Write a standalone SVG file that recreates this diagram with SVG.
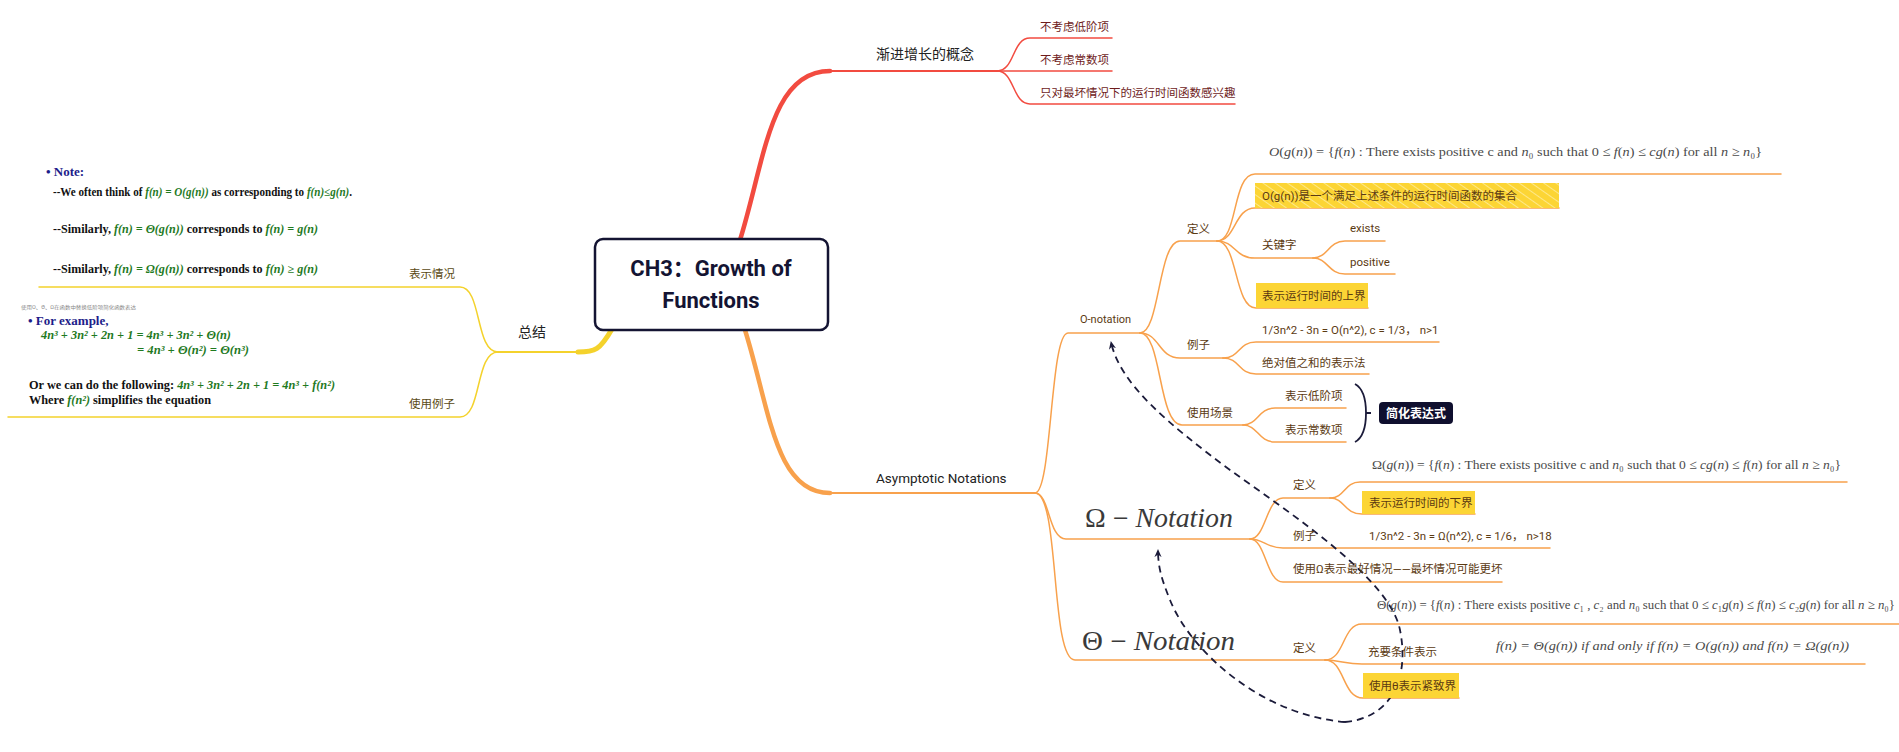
<svg xmlns="http://www.w3.org/2000/svg" width="1899" height="752" viewBox="0 0 1899 752">
<defs>
<style>
.t{font-family:Roboto,'Noto Sans CJK SC',sans-serif}
.main{font-size:14px;fill:#222}
.rd{font-size:11.5px;fill:#6e1c1c}
.or{font-size:11.5px;fill:#5b3a12}
.yl{font-size:11.5px;fill:#5a4a14}
.m{font-family:'Liberation Serif',serif;fill:#4a4a4a;font-size:13px}
.big{font-size:27px;fill:#3a3a3a}
.i{font-style:italic}
.nb{font-family:'Liberation Serif',serif;font-weight:bold}
.g{fill:#1f7a1f;font-style:italic}
.nv{fill:#1d1d8a}
.box{fill:#fcd535}
.lr{fill:none;stroke:#f24b40;stroke-linecap:round}
.lo{fill:none;stroke:#f8a14c;stroke-linecap:round}
.ly{fill:none;stroke:#f4d22c;stroke-linecap:round}
.rel{fill:none;stroke:#1b1b3a;stroke-width:1.8;stroke-dasharray:7 5}
</style>
<pattern id="hatch" patternUnits="userSpaceOnUse" width="7" height="7" patternTransform="rotate(-55)">
<rect width="7" height="7" fill="#fcd535"/>
<line x1="0" y1="0" x2="0" y2="7" stroke="#fff3b8" stroke-width="1.3"/>
</pattern>
<marker id="arr" viewBox="0 0 10 10" refX="8" refY="5" markerWidth="9" markerHeight="9" orient="auto" markerUnits="userSpaceOnUse">
<path d="M0,1 L9,5 L0,9 L3,5 z" fill="#1b1b3a"/>
</marker>
</defs>
<rect width="1899" height="752" fill="#fff"/>

<g id="connectors">
<!-- red -->
<path class="lr" stroke-width="4.5" d="M740 240 C765 160 770 71 830 71"/>
<path class="lr" stroke-width="2" d="M828 71 L997 71"/>
<path class="lr" stroke-width="1.5" d="M997 71 C1015 71 1012 38 1030 38 L1112 38"/>
<path class="lr" stroke-width="1.5" d="M997 71 L1112 71"/>
<path class="lr" stroke-width="1.5" d="M997 71 C1015 71 1012 104 1030 104 L1235 104"/>
<!-- yellow -->
<path class="ly" stroke-width="5" d="M612 329 C600 350 595 352 578 352"/>
<path class="ly" stroke-width="2" d="M580 352 L498 352"/>
<path class="ly" stroke-width="1.5" d="M498 352 C475 352 482 287 460 287 L39 287"/>
<path class="ly" stroke-width="1.5" d="M498 352 C475 352 482 417 460 417 L8 417"/>
<!-- orange -->
<path class="lo" stroke-width="4.5" d="M745 330 C770 410 775 493 830 493"/>
<path class="lo" stroke-width="2" d="M828 493 L1035 493"/>
<path class="lo" stroke-width="1.5" d="M1035 493 C1052 493 1050 333 1068 333 L1140 333"/>
<path class="lo" stroke-width="1.5" d="M1035 493 C1050 493 1048 539 1066 539 L1250 539"/>
<path class="lo" stroke-width="1.5" d="M1035 493 C1060 493 1050 660 1075 660 L1325 660"/>
<path class="lo" stroke-width="1.5" d="M1140 333 C1160 333 1158 241 1180 241 L1217 241"/>
<path class="lo" stroke-width="1.5" d="M1140 333 C1160 333 1158 358 1180 358 L1223 358"/>
<path class="lo" stroke-width="1.5" d="M1140 333 C1162 333 1158 425 1182 425 L1243 425"/>
<path class="lo" stroke-width="1.5" d="M1217 241 C1238 241 1232 174 1255 174 L1781 174"/>
<path class="lo" stroke-width="1.5" d="M1217 241 C1236 241 1234 208 1255 208 L1559 208"/>
<path class="lo" stroke-width="1.5" d="M1217 241 C1236 241 1234 258 1255 258 L1313 258"/>
<path class="lo" stroke-width="1.5" d="M1217 241 C1238 241 1234 308 1256 308 L1368 308"/>
<path class="lo" stroke-width="1.5" d="M1313 258 C1328 258 1328 241 1345 241 L1385 241"/>
<path class="lo" stroke-width="1.5" d="M1313 258 C1328 258 1328 274 1345 274 L1395 274"/>
<path class="lo" stroke-width="1.5" d="M1223 358 C1240 358 1238 342 1256 342 L1439 342"/>
<path class="lo" stroke-width="1.5" d="M1223 358 C1240 358 1238 374 1256 374 L1369 374"/>
<path class="lo" stroke-width="1.5" d="M1243 425 C1258 425 1258 408 1275 408 L1346 408"/>
<path class="lo" stroke-width="1.5" d="M1243 425 C1258 425 1258 442 1275 442 L1346 442"/>
<path class="lo" stroke-width="1.5" d="M1250 539 C1266 539 1266 498 1283 498 L1330 498"/>
<path class="lo" stroke-width="1.5" d="M1250 539 C1264 539 1266 548 1283 548 L1550 548"/>
<path class="lo" stroke-width="1.5" d="M1250 539 C1266 539 1266 582 1283 582 L1502 582"/>
<path class="lo" stroke-width="1.5" d="M1330 498 C1345 498 1344 482 1360 482 L1847 482"/>
<path class="lo" stroke-width="1.5" d="M1330 498 C1345 498 1344 514 1362 514 L1475 514"/>
<path class="lo" stroke-width="1.5" d="M1325 660 C1345 660 1342 624 1362 624 L1899 624"/>
<path class="lo" stroke-width="1.5" d="M1325 660 C1340 660 1345 664 1362 664 L1865 664"/>
<path class="lo" stroke-width="1.5" d="M1325 660 C1345 660 1342 698 1363 698 L1459 698"/>
<!-- brace -->
<path fill="none" stroke="#1b1b3a" stroke-width="1.8" d="M1355 384 Q1366 390 1366 413 Q1366 436 1355 442 M1366 413 L1371 413"/>
<!-- relationships -->
<path class="rel" marker-end="url(#arr)" d="M1345 722 C1390 718 1410 680 1400 630 C1390 580 1300 520 1230 470 C1170 425 1120 385 1111 342"/>
<path class="rel" marker-end="url(#arr)" d="M1345 722 C1260 715 1190 650 1170 600 C1162 580 1158 568 1158 550"/>
</g>

<g id="root">
<rect x="595" y="239" width="233" height="91" rx="8" fill="#fff" stroke="#141433" stroke-width="2.5"/>
<text class="t" x="711" y="276" text-anchor="middle" font-size="22" font-weight="bold" fill="#141433">CH3：Growth of</text>
<text class="t" x="711" y="308" text-anchor="middle" font-size="22" font-weight="bold" fill="#141433">Functions</text>
</g>

<g id="concept">
<text class="t main" x="876" y="59">渐进增长的概念</text>
</g>
<g id="concept-1"><text class="t rd" x="1040" y="31">不考虑低阶项</text></g>
<g id="concept-2"><text class="t rd" x="1040" y="64">不考虑常数项</text></g>
<g id="concept-3"><text class="t rd" x="1040" y="97">只对最坏情况下的运行时间函数感兴趣</text></g>

<g id="asymptotic"><text class="t main" x="876" y="483" style="font-size:13.5px">Asymptotic Notations</text></g>

<g id="o-notation"><text class="t or" x="1080" y="323" style="font-size:11px">O-notation</text></g>
<g id="o-def"><text class="t or" x="1187" y="233">定义</text></g>
<g id="o-formula">
<text class="m" x="1269" y="156" textLength="493" lengthAdjust="spacingAndGlyphs"><tspan class="i">O</tspan>(<tspan class="i">g</tspan>(<tspan class="i">n</tspan>)) = {<tspan class="i">f</tspan>(<tspan class="i">n</tspan>) : There exists positive c and <tspan class="i">n</tspan>₀ such that 0 ≤ <tspan class="i">f</tspan>(<tspan class="i">n</tspan>) ≤ <tspan class="i">cg</tspan>(<tspan class="i">n</tspan>) for all <tspan class="i">n</tspan> ≥ <tspan class="i">n</tspan>₀}</text>
</g>
<g id="o-set">
<rect x="1255" y="183" width="304" height="25" fill="url(#hatch)"/>
<text class="t or" x="1262" y="200">O(g(n))是一个满足上述条件的运行时间函数的集合</text>
</g>
<g id="o-keyword"><text class="t or" x="1262" y="249">关键字</text></g>
<g id="o-exists"><text class="t or" x="1350" y="232">exists</text></g>
<g id="o-positive"><text class="t or" x="1350" y="266">positive</text></g>
<g id="o-upper">
<rect class="box" x="1256" y="283" width="112" height="25"/>
<text class="t or" x="1262" y="300">表示运行时间的上界</text>
</g>
<g id="o-example"><text class="t or" x="1187" y="349">例子</text></g>
<g id="o-ex1"><text class="t or" x="1262" y="334">1/3n^2 - 3n = O(n^2), c = 1/3，  n&gt;1</text></g>
<g id="o-ex2"><text class="t or" x="1262" y="367">绝对值之和的表示法</text></g>
<g id="o-usage"><text class="t or" x="1187" y="417">使用场景</text></g>
<g id="o-u1"><text class="t or" x="1285" y="400">表示低阶项</text></g>
<g id="o-u2"><text class="t or" x="1285" y="434">表示常数项</text></g>
<g id="simplify">
<rect x="1379" y="402" width="74" height="22" rx="4" fill="#0f0f2e"/>
<text class="t" x="1416" y="418" text-anchor="middle" font-size="12" font-weight="bold" fill="#fff">简化表达式</text>
</g>

<g id="omega">
<text class="m big" x="1085" y="527" textLength="148" lengthAdjust="spacingAndGlyphs">Ω − <tspan class="i">Notation</tspan></text>
</g>
<g id="omega-def"><text class="t or" x="1293" y="489">定义</text></g>
<g id="omega-formula">
<text class="m" x="1372" y="469" textLength="469" lengthAdjust="spacingAndGlyphs">Ω(<tspan class="i">g</tspan>(<tspan class="i">n</tspan>)) = {<tspan class="i">f</tspan>(<tspan class="i">n</tspan>) : There exists positive c and <tspan class="i">n</tspan>₀ such that 0 ≤ <tspan class="i">cg</tspan>(<tspan class="i">n</tspan>) ≤ <tspan class="i">f</tspan>(<tspan class="i">n</tspan>) for all <tspan class="i">n</tspan> ≥ <tspan class="i">n</tspan>₀}</text>
</g>
<g id="omega-lower">
<rect class="box" x="1362" y="491" width="113" height="23"/>
<text class="t or" x="1369" y="507">表示运行时间的下界</text>
</g>
<g id="omega-example"><text class="t or" x="1293" y="540">例子</text></g>
<g id="omega-ex1"><text class="t or" x="1369" y="540">1/3n^2 - 3n = Ω(n^2), c = 1/6，  n&gt;18</text></g>
<g id="omega-best"><text class="t or" x="1293" y="573">使用Ω表示最好情况——最坏情况可能更坏</text></g>

<g id="theta">
<text class="m big" x="1082" y="650" textLength="153" lengthAdjust="spacingAndGlyphs">Θ − <tspan class="i">Notation</tspan></text>
</g>
<g id="theta-def"><text class="t or" x="1293" y="652">定义</text></g>
<g id="theta-formula">
<text class="m" x="1377" y="609" textLength="518" lengthAdjust="spacingAndGlyphs">Θ(<tspan class="i">g</tspan>(<tspan class="i">n</tspan>)) = {<tspan class="i">f</tspan>(<tspan class="i">n</tspan>) : There exists positive <tspan class="i">c</tspan>₁ , <tspan class="i">c</tspan>₂ and <tspan class="i">n</tspan>₀ such that 0 ≤ <tspan class="i">c</tspan>₁<tspan class="i">g</tspan>(<tspan class="i">n</tspan>) ≤ <tspan class="i">f</tspan>(<tspan class="i">n</tspan>) ≤ <tspan class="i">c</tspan>₂<tspan class="i">g</tspan>(<tspan class="i">n</tspan>) for all <tspan class="i">n</tspan> ≥ <tspan class="i">n</tspan>₀}</text>
</g>
<g id="theta-iff-label"><text class="t or" x="1368" y="656">充要条件表示</text></g>
<g id="theta-iff">
<text class="m i" x="1496" y="650" textLength="353" lengthAdjust="spacingAndGlyphs">f(n) = Θ(g(n)) if and only if  f(n) = O(g(n))  and  f(n) = Ω(g(n))</text>
</g>
<g id="theta-tight">
<rect class="box" x="1363" y="673" width="96" height="25"/>
<text class="t or" x="1369" y="690">使用θ表示紧致界</text>
</g>

<g id="summary"><text class="t main" x="518" y="337">总结</text></g>
<g id="summary-cases">
<text class="t yl" x="409" y="278">表示情况</text>
<text class="nb nv" x="46" y="176" font-size="13">•  Note:</text>
<text class="nb" x="53" y="196" font-size="11.5" textLength="299" lengthAdjust="spacingAndGlyphs" fill="#111">--We often think of <tspan class="g">f(n) = O(g(n))</tspan> as corresponding to <tspan class="g">f(n)≤g(n)</tspan>.</text>
<text class="nb" x="53" y="233" font-size="11.5" textLength="265" lengthAdjust="spacingAndGlyphs" fill="#111">--Similarly, <tspan class="g">f(n) = Θ(g(n))</tspan> corresponds to <tspan class="g">f(n) = g(n)</tspan></text>
<text class="nb" x="53" y="273" font-size="11.5" textLength="265" lengthAdjust="spacingAndGlyphs" fill="#111">--Similarly, <tspan class="g">f(n) = Ω(g(n))</tspan> corresponds to <tspan class="g">f(n) ≥ g(n)</tspan></text>
</g>
<g id="summary-examples">
<text class="t yl" x="409" y="408">使用例子</text>
<text class="t" x="21" y="309" font-size="5" fill="#888" textLength="115" lengthAdjust="spacingAndGlyphs">使用O、Θ、Ω在函数中替换低阶项简化函数表达</text>
<text class="nb nv" x="28" y="325" font-size="13">•  For example,</text>
<text class="nb g" x="41" y="339" font-size="12" textLength="190" lengthAdjust="spacingAndGlyphs">4n³ + 3n² + 2n + 1 = 4n³ + 3n² + Θ(n)</text>
<text class="nb g" x="137" y="354" font-size="12" textLength="112" lengthAdjust="spacingAndGlyphs">= 4n³ + Θ(n²)  = Θ(n³)</text>
<text class="nb" x="29" y="389" font-size="12.5" textLength="306" lengthAdjust="spacingAndGlyphs" fill="#111">Or we can do the following: <tspan class="g">4n³ + 3n² + 2n + 1 = 4n³ + f(n²)</tspan></text>
<text class="nb" x="29" y="404" font-size="12.5" textLength="182" lengthAdjust="spacingAndGlyphs" fill="#111">Where <tspan class="g">f(n²)</tspan> simplifies the equation</text>
</g>
</svg>
